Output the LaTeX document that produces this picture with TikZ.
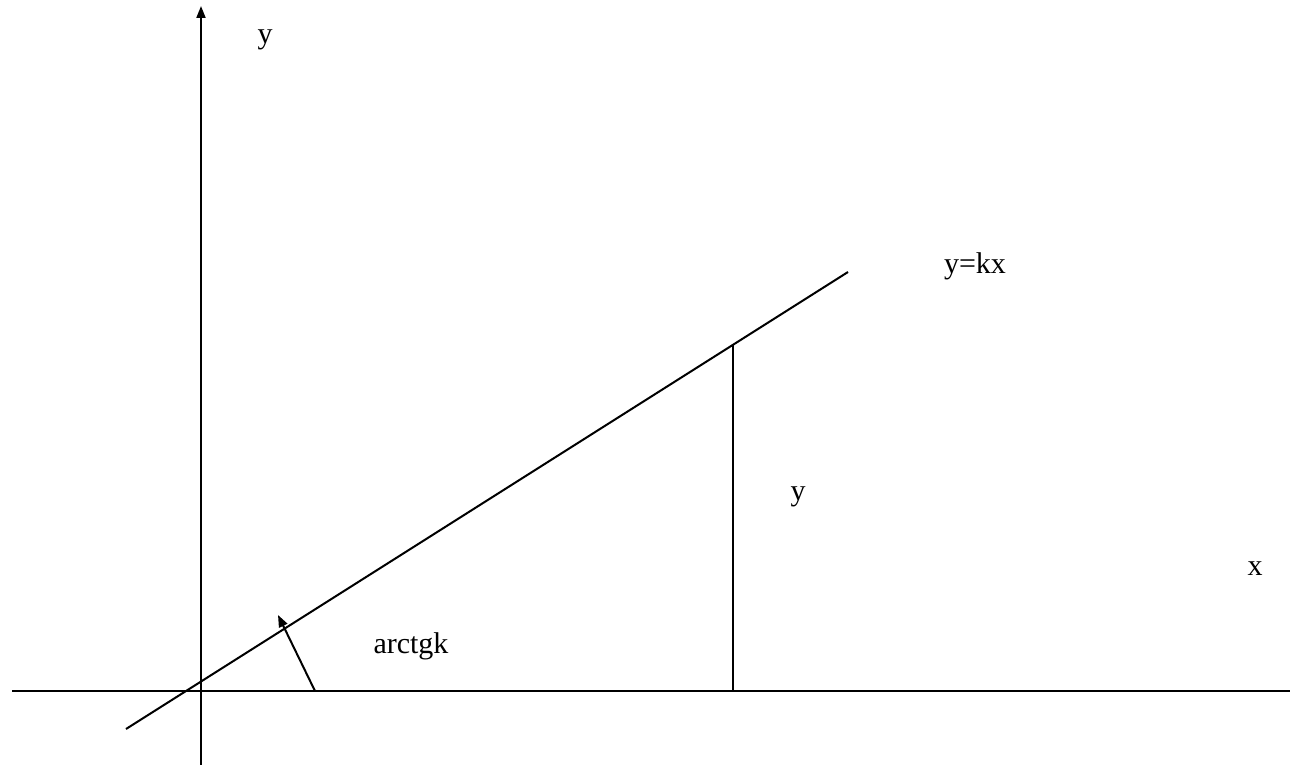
\documentclass[tikz,border=0pt]{standalone}
\usepackage{fontspec}
\setmainfont{Liberation Serif}
\usetikzlibrary{arrows.meta}

\begin{document}
\begin{tikzpicture}[
  x=0.5pt,y=-0.5pt,
  line width=1pt,
  lbl/.style={inner sep=0pt,font=\fontsize{15}{18}\selectfont},
  tip/.style={-{Triangle[length=6pt,width=4.5pt]}},
]
  \useasboundingbox (0,0) rectangle (1290,765);

  % axes
  \coordinate (xl) at (12,691);
  \coordinate (xr) at (1290,691);
  \coordinate (yb) at (201,765);
  \coordinate (yt) at (201,6);
  \draw (xl) -- (xr);
  \draw[tip] (yb) -- (yt);

  % the line, the ordinate and the angle
  \coordinate (lb) at (126,729);
  \coordinate (lt) at (848,272);
  \coordinate (ft) at (733,345);
  \coordinate (fb) at (733,691);
  \coordinate (as) at (315,691);
  \coordinate (ae) at (278,615);
  \draw (lb) -- (lt);
  \draw (fb) -- (ft);
  \draw[tip] (as) -- (ae);

  \node[lbl] (ylab) at (265,40) {y};
  \node[lbl] (kx) at (975,266) {y=kx};
  \node[lbl] (yval) at (798,497) {y};
  \node[lbl] (xlab) at (1255,569) {x};
  \node[lbl] (ang) at (411,646) {arctgk};
\end{tikzpicture}
\end{document}
